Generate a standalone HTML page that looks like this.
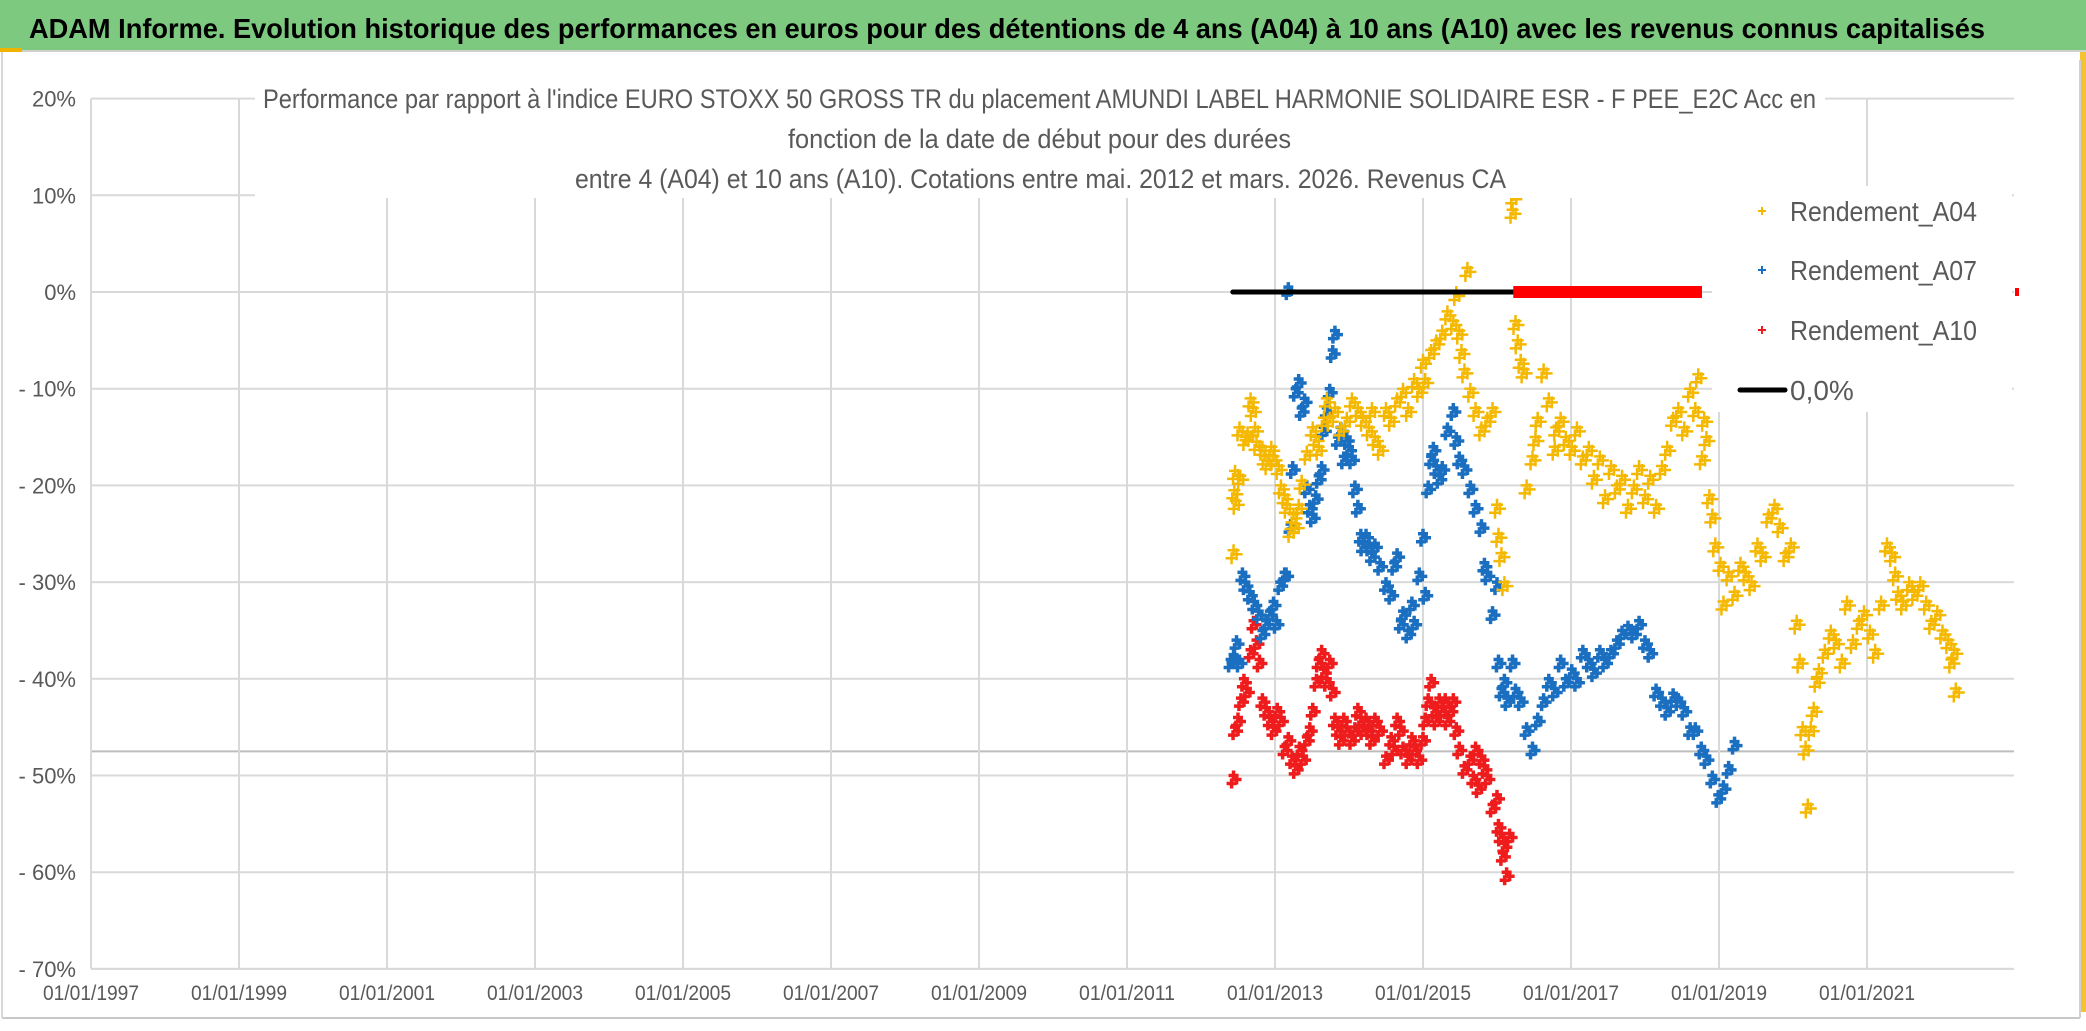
<!DOCTYPE html>
<html><head><meta charset="utf-8">
<style>
html,body{margin:0;padding:0;background:#fff;}
body{width:2086px;height:1031px;overflow:hidden;}
svg{display:block;font-family:"Liberation Sans Narrow","Liberation Sans",sans-serif;}
</style></head>
<body>
<svg id="chart" width="2086" height="1031" viewBox="0 0 2086 1031">
  <rect x="0" y="0" width="2086" height="1031" fill="#fff"/>
  <rect x="0" y="0" width="2086" height="50" fill="#7dc97f"/>
  <line x1="0" y1="51" x2="2086" y2="51" stroke="#d0d0d0" stroke-width="2"/>
  <rect x="0" y="48" width="22" height="4" fill="#f0b400"/>
  <text x="29" y="38" font-size="28" font-weight="bold" fill="#000" textLength="1956" lengthAdjust="spacingAndGlyphs">ADAM Informe. Evolution historique des performances en euros pour des détentions de 4 ans (A04) à 10 ans (A10) avec les revenus connus capitalisés</text>
  <rect x="2080" y="52" width="6" height="960" fill="#f0b400" opacity="0.8"/>
  <line x1="2" y1="1018" x2="2080" y2="1018" stroke="#c8c8c8" stroke-width="2"/>
  <line x1="2" y1="52" x2="2" y2="1018" stroke="#d8d8d8" stroke-width="2"/>
  <g id="grid"></g>
  <g id="axes"></g>
  <g id="marks"></g>
  <rect x="255" y="80" width="1570" height="118" fill="#fff"/>
  <g fill="#595959" font-size="27">
    <text x="263" y="108" textLength="1553" lengthAdjust="spacingAndGlyphs">Performance par rapport à l'indice EURO STOXX 50 GROSS TR  du placement AMUNDI LABEL HARMONIE SOLIDAIRE ESR - F PEE_E2C Acc en</text>
    <text x="788" y="148" textLength="503" lengthAdjust="spacingAndGlyphs">fonction de la date de début pour des durées</text>
    <text x="575" y="188" textLength="931" lengthAdjust="spacingAndGlyphs">entre 4 (A04) et 10 ans (A10). Cotations entre mai. 2012 et mars. 2026. Revenus CA</text>
  </g>
  <g id="legend">
    <rect x="1712" y="186" width="300" height="226" fill="#fff"/>
  </g>
</svg>
<script>
// ---- data ----
var yearTicks = [1997,1999,2001,2003,2005,2007,2009,2011,2013,2015,2017,2019,2021];
var valueTicks = [20,10,0,-10,-20,-30,-40,-50,-60,-70];
var seriesNames = ["Rendement_A04","Rendement_A07","Rendement_A10","0,0%"];

var a04Dates = [2012.44,2012.45,2012.46,2012.47,2012.52,2012.53,2012.60,2012.63,2012.67,2012.70,2012.73,2012.75,2012.83,2012.86,2012.90,2012.95,2012.98,2013.05,2013.08,2013.13,2013.16,2013.21,2013.25,2013.28,2013.32,2013.36,2013.43,2013.51,2013.55,2013.59,2013.66,2013.70,2013.74,2013.81,2013.89,2013.97,2014.04,2014.12,2014.19,2014.27,2014.31,2014.35,2014.42,2014.50,2014.57,2014.65,2014.73,2014.80,2014.88,2014.95,2015.00,2015.03,2015.11,2015.18,2015.26,2015.33,2015.41,2015.45,2015.49,2015.52,2015.56,2015.60,2015.64,2015.71,2015.79,2015.87,2015.94,2016.00,2016.02,2016.06,2016.10,2016.21,2016.22,2016.25,2016.28,2016.32,2016.36,2016.40,2016.48,2016.52,2016.55,2016.63,2016.70,2016.78,2016.80,2016.86,2016.93,2017.01,2017.08,2017.16,2017.24,2017.31,2017.39,2017.46,2017.54,2017.62,2017.69,2017.77,2017.85,2017.92,2018.00,2018.07,2018.15,2018.23,2018.30,2018.38,2018.45,2018.53,2018.61,2018.68,2018.72,2018.77,2018.80,2018.83,2018.87,2018.91,2018.95,2019.02,2019.06,2019.13,2019.21,2019.29,2019.36,2019.44,2019.52,2019.59,2019.67,2019.75,2019.82,2019.90,2019.97,2020.05,2020.09,2020.13,2020.17,2020.20,2020.24,2020.28,2020.32,2020.35,2020.43,2020.51,2020.58,2020.66,2020.73,2020.81,2020.89,2020.96,2021.04,2021.11,2021.19,2021.27,2021.34,2021.38,2021.42,2021.49,2021.57,2021.64,2021.72,2021.80,2021.87,2021.95,2022.02,2022.10,2022.14,2022.18,2022.20];
var a04Values = [-26.7,-20.5,-18.5,-21.6,-14,-19,-15,-14.5,-11,-12,-14,-15.5,-16,-17,-17.5,-16,-17,-18,-20,-21,-22,-24.5,-23,-24,-22,-19.5,-16.5,-14,-15,-16,-13,-11,-13,-12,-14,-13,-11,-12,-13,-14,-12,-15,-16,-12,-13,-11,-10,-12,-9,-10,-7,-9,-6,-5,-4,-2,-3,0,-4,-6,-8,2.5,-10,-12,-14,-13,-12,-22,-25,-27,-30,8.5,10,-3,-5,-7,-8,-20,-17,-15,-13,-8,-11,-16,-14,-13,-15,-16,-14,-17,-16,-19,-17,-21,-18,-20,-19,-22,-20,-18,-21,-19,-22,-18,-16,-13,-12,-14,-10,-12,-8.5,-17,-13,-15,-21,-23,-26,-28,-32,-29,-31,-28,-29,-30,-26,-27,-23,-22,-24,-27,-26,-34,-38,-45,-47,-53,-45,-43,-40,-39,-37,-35,-36,-38,-32,-36,-34,-33,-35,-37,-32,-26,-27,-29,-31,-32,-30,-31,-30,-32,-34,-33,-35,-36,-38,-37,-41];

var a07Dates = [2012.40,2012.44,2012.48,2012.52,2012.56,2012.60,2012.66,2012.72,2012.78,2012.83,2012.88,2012.93,2012.98,2013.02,2013.07,2013.13,2013.15,2013.18,2013.21,2013.24,2013.28,2013.32,2013.36,2013.40,2013.43,2013.47,2013.51,2013.55,2013.59,2013.63,2013.66,2013.70,2013.74,2013.78,2013.81,2013.85,2013.89,2013.93,2013.97,2014.00,2014.04,2014.08,2014.12,2014.16,2014.19,2014.23,2014.27,2014.31,2014.35,2014.42,2014.50,2014.57,2014.61,2014.65,2014.70,2014.73,2014.80,2014.85,2014.88,2014.95,2015.00,2015.03,2015.07,2015.11,2015.14,2015.18,2015.22,2015.26,2015.33,2015.41,2015.45,2015.49,2015.56,2015.64,2015.71,2015.79,2015.83,2015.87,2015.94,2016.00,2016.02,2016.06,2016.10,2016.14,2016.21,2016.25,2016.32,2016.40,2016.48,2016.55,2016.63,2016.70,2016.78,2016.86,2016.93,2017.01,2017.08,2017.16,2017.24,2017.31,2017.39,2017.46,2017.54,2017.62,2017.69,2017.77,2017.85,2017.92,2018.00,2018.07,2018.15,2018.23,2018.30,2018.38,2018.45,2018.53,2018.61,2018.68,2018.76,2018.83,2018.91,2018.99,2019.06,2019.13,2019.21];
var a07Values = [-38,-37.5,-36,-38,-29,-30,-31,-32,-33,-35,-34,-33,-32,-34,-30,-29,-29,0.5,-24,-18,-10,-9,-12,-11,-20,-22,-23,-21,-19,-18,-14,-12,-10,-6,-4,-15,-14,-17,-15,-16,-17,-20,-22,-25,-26,-25,-26,-27,-26,-28,-30,-31,-28,-27,-34,-33,-35,-32,-34,-29,-25,-31,-20,-17,-16,-18,-19,-18,-14,-12,-15,-17,-18,-20,-22,-24,-28,-29,-33,-30,-38,-41,-40,-42,-38,-41,-42,-45,-47,-44,-42,-40,-41,-38,-40,-39,-40,-37,-38,-39,-37,-38,-37,-36,-35,-34.5,-35,-34,-36,-37,-41,-42,-43,-41.5,-42,-43,-45,-45,-47,-48,-50,-52,-51,-49,-46.5];

var a10Dates = [2012.44,2012.46,2012.50,2012.54,2012.58,2012.62,2012.67,2012.71,2012.75,2012.79,2012.83,2012.88,2012.93,2012.98,2013.03,2013.08,2013.13,2013.18,2013.23,2013.28,2013.33,2013.38,2013.43,2013.47,2013.51,2013.56,2013.59,2013.63,2013.66,2013.70,2013.74,2013.78,2013.81,2013.85,2013.89,2013.93,2013.97,2014.04,2014.08,2014.12,2014.16,2014.19,2014.23,2014.27,2014.31,2014.35,2014.42,2014.50,2014.57,2014.61,2014.65,2014.70,2014.73,2014.80,2014.85,2014.88,2014.95,2015.00,2015.03,2015.07,2015.11,2015.15,2015.18,2015.22,2015.26,2015.30,2015.33,2015.37,2015.41,2015.45,2015.49,2015.56,2015.64,2015.68,2015.71,2015.75,2015.79,2015.83,2015.87,2015.94,2016.00,2016.02,2016.05,2016.08,2016.10,2016.13,2016.17];
var a10Values = [-50,-45,-44,-42,-40,-41,-37,-34,-36,-38,-42,-43,-44,-45,-43,-44,-47,-46,-48,-49,-47,-48,-46,-45,-43,-40,-38,-37,-39,-40,-38,-41,-44,-45,-46,-44,-45,-46,-45,-43,-44,-45,-44,-45,-46,-44,-45,-48,-46,-47,-44,-45,-47,-48,-46,-47,-48,-46,-44,-42,-40,-43,-44,-42,-43,-42,-44,-43,-42,-45,-47,-49,-48,-50,-47,-51,-48,-49,-50,-53,-52,-55,-56,-58,-57,-60,-56];

var zeroBlackDates = [2012.43,2016.22];
var zeroRedDates = [2016.22,2018.77];
var zeroValue = 0;

// ---- scales ----
var X0 = 91, PXYEAR = 74, Y0 = 292, PXPCT = 9.67;
function xs(y){ return X0 + (y - 1997) * PXYEAR; }
function ys(v){ return Y0 - v * PXPCT; }
var NS = "http://www.w3.org/2000/svg";
function mk(tag, attrs, parent){ var e = document.createElementNS(NS, tag); for (var k in attrs) e.setAttribute(k, attrs[k]); parent.appendChild(e); return e; }

var grid = document.getElementById('grid');
var axes = document.getElementById('axes');
var marks = document.getElementById('marks');
var plotRight = 2014;

valueTicks.forEach(function(v){
  var gl = mk('line', {x1: X0, x2: plotRight, y1: ys(v), y2: ys(v), stroke: '#d9d9d9', 'stroke-width': 2}, grid);
  
  
  var t = mk('text', {x: 76, y: ys(v) + 8, 'text-anchor': 'end', 'font-size': 22, fill: '#595959'}, axes);
  t.textContent = (v < 0 ? '- ' + Math.abs(v) : v) + '%';
  
  
});
var sl = mk('line', {x1: X0, x2: plotRight, y1: ys(-47.5), y2: ys(-47.5), stroke: '#bdbdbd', 'stroke-width': 2}, grid);



yearTicks.forEach(function(yr, i){
  if (i > 0) {
    var gl = mk('line', {x1: xs(yr), x2: xs(yr), y1: ys(20), y2: ys(-70), stroke: '#d9d9d9', 'stroke-width': 2}, grid);
    
    
  }
  var t = mk('text', {x: xs(yr), y: 1000, 'text-anchor': 'middle', 'font-size': 21, fill: '#595959', textLength: 96, lengthAdjust: 'spacingAndGlyphs'}, axes);
  t.textContent = '01/01/' + yr;
  
  
});
var ax = mk('line', {x1: X0, x2: X0, y1: ys(20), y2: ys(-70), stroke: '#d9d9d9', 'stroke-width': 2}, axes);


var bx = mk('line', {x1: X0, x2: plotRight, y1: ys(-70), y2: ys(-70), stroke: '#d9d9d9', 'stroke-width': 2}, axes);


var rb = mk('line', {x1: 2080, x2: 2080, y1: 60, y2: 1018, stroke: '#d0d0d0', 'stroke-width': 2}, axes);



function plus(x, y, size, sw, color, parent, name){
  var p = mk('path', {d: 'M' + (x - size) + ' ' + y + 'H' + (x + size) + 'M' + x + ' ' + (y - size) + 'V' + (y + size), stroke: color, 'stroke-width': sw, fill: 'none'}, parent);
  
  
  return p;
}
function drawSeries(dates, vals, color, size, sw, name){
  var g = mk('g', {}, marks);
  
  
  for (var i = 0; i < dates.length; i++) {
    var x = xs(dates[i]), y = ys(vals[i]);
    plus(x, y, size, sw, color, g, name + '-point');
    plus(x + 3, y + 4, size, sw, color, g, name + '-point');
    plus(x - 2, y + 8, size, sw, color, g, name + '-point');
  }
}
drawSeries(a10Dates, a10Values, '#ee1c1c', 5, 3.5, 'a10');
drawSeries(a07Dates, a07Values, '#1b6fc0', 5, 3.5, 'a07');
drawSeries(a04Dates, a04Values, '#f5b800', 6, 2.5, 'a04');

var zb = mk('line', {x1: xs(zeroBlackDates[0]), x2: xs(zeroBlackDates[1]), y1: ys(zeroValue), y2: ys(zeroValue), stroke: '#000', 'stroke-width': 5, 'stroke-linecap': 'round'}, marks);


var zr = mk('line', {x1: xs(zeroRedDates[0]), x2: xs(zeroRedDates[1]), y1: ys(zeroValue), y2: ys(zeroValue), stroke: '#ff0000', 'stroke-width': 12}, marks);


var rd = mk('rect', {x: 2015, y: ys(zeroValue) - 4, width: 4, height: 8, fill: '#ff0000'}, marks);



var leg = document.getElementById('legend');
var legColors = ['#f5b800', '#1b6fc0', '#ee1c1c', '#000'];
var legY = [211, 270, 330, 390];
seriesNames.forEach(function(n, i){
  var g = mk('g', {}, leg);
  
  
  if (i < 3) {
    plus(1762, legY[i], 4, 2, legColors[i], g, 'legend-marker');
  } else {
    var l = mk('line', {x1: 1740, x2: 1785, y1: legY[i], y2: legY[i], stroke: '#000', 'stroke-width': 5, 'stroke-linecap': 'round'}, g);
    
    
  }
  var t = mk('text', {x: 1790, y: legY[i] + 10, 'font-size': 28, fill: '#595959'}, g);
  if (i < 3) { t.setAttribute('textLength', 187); t.setAttribute('lengthAdjust', 'spacingAndGlyphs'); }
  t.textContent = n;
  
  
});
</script>
</body></html>
